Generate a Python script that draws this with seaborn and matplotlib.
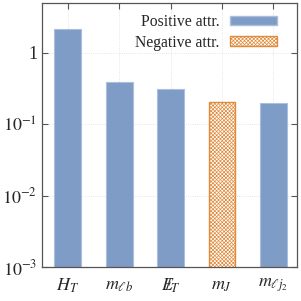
import matplotlib
matplotlib.use('Agg')
import matplotlib.pyplot as plt
import seaborn as sns
import pandas as pd
from matplotlib.patches import Patch

features = [r'$H_T$', r'$m_{\ell b}$', r'$E\!\!\!/_T$', r'$m_J$', r'$m_{\ell j_2}$']
attribution = [2.17, 0.39, 0.31, 0.206, 0.197]
sign = ['Positive attr.', 'Positive attr.', 'Positive attr.', 'Negative attr.', 'Positive attr.']

blue = '#7f9cc6'
orange = '#e08a3a'

sns.set_style('ticks')
plt.rcParams['font.family'] = ['Liberation Serif', 'DejaVu Serif']
plt.rcParams['mathtext.fontset'] = 'stix'
plt.rcParams['hatch.linewidth'] = 0.5

df = pd.DataFrame({'feature': features, 'attr': attribution, 'sign': sign})

fig, ax = plt.subplots(figsize=(3.01, 3.01), dpi=100)
sns.barplot(data=df, x='feature', y='attr', color=blue, width=0.52, ax=ax)
ax.set_yscale('log')

for p, s in zip(ax.patches, sign):
    if s == 'Negative attr.':
        p.set_facecolor('white')
        p.set_edgecolor(orange)
        p.set_hatch('xxxxxxxxx')
        p.set_linewidth(1.0)
    else:
        p.set_facecolor(blue)
        p.set_edgecolor('#a9bfdd')
        p.set_linewidth(0.8)

ax.set_ylim(1e-3, 5)
ax.set_xlim(-0.5, 4.47)
ax.set_yticks([1e-3, 1e-2, 1e-1, 1])
ax.set_yticklabels([r'$10^{-3}$', r'$10^{-2}$', r'$10^{-1}$', '1'])
ax.minorticks_off()
ax.set_xlabel('')
ax.set_ylabel('')
ax.tick_params(axis='both', direction='in', labelsize=13, color='#555555', length=4)
ax.tick_params(axis='x', pad=7)
ax.tick_params(top=True, right=True)
ax.grid(True, linestyle=':', color='#dddddd', linewidth=0.6)
ax.set_axisbelow(True)
for sp in ax.spines.values():
    sp.set_color('#555555')
    sp.set_linewidth(0.9)

handles = [Patch(facecolor=blue, edgecolor='#a9bfdd', label='Positive attr.'),
           Patch(facecolor='white', edgecolor=orange, hatch='xxxxxxxxx', label='Negative attr.')]
ax.legend(handles=handles, loc='upper right', bbox_to_anchor=(0.965, 1.0), frameon=False,
          markerfirst=False, fontsize=11.3, handlelength=3.0, handleheight=0.55,
          borderaxespad=0.3, labelspacing=0.3, handletextpad=0.7)

fig.subplots_adjust(left=0.14, right=0.988, top=0.99, bottom=0.113)
fig.savefig('out.png', dpi=100)
